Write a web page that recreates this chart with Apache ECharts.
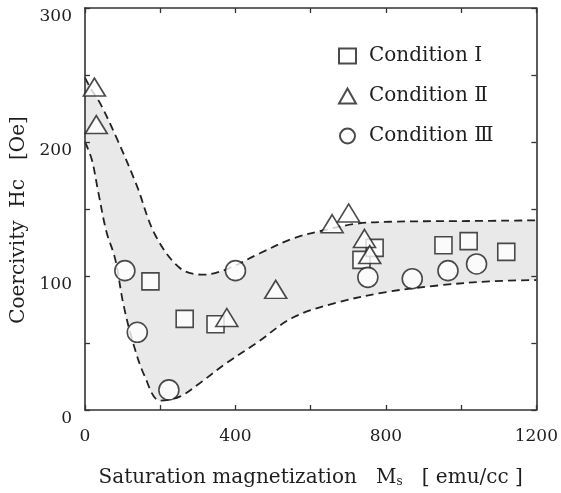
<!DOCTYPE html>
<html>
<head>
<meta charset="utf-8">
<script src="https://cdn.jsdelivr.net/npm/echarts@6/dist/echarts.min.js"></script>
<style>
  html, body { margin: 0; padding: 0; background: #fff; }
  #chart { width: 561px; height: 493px; }
</style>
</head>
<body>
<div id="chart"></div>
<script>
// Coercivity vs saturation magnetization for three sputtering conditions
const seriesNames = ['Condition Ⅰ', 'Condition Ⅱ', 'Condition Ⅲ'];

// [Ms (emu/cc), Hc (Oe)]
const conditionI = [[174, 96], [265, 68], [347, 64], [735, 112], [770, 121], [953, 123], [1020, 126], [1120, 118]];
const conditionII = [[25, 241], [30, 213], [377, 69], [507, 90], [657, 139], [701, 147], [743, 128], [757, 116]];
const conditionIII = [[106, 104], [139, 58], [223, 15], [400, 104], [752, 99], [870, 98], [965, 104], [1041, 109]];

// dashed envelope around the data
const bandUpper = [[0, 248], [15, 240], [40, 229], [84, 203], [137, 168], [186, 131], [252, 106], [314, 101],
  [376, 105], [465, 117], [553, 128], [633, 134], [721, 139], [810, 140.5], [1000, 141], [1200, 141.5]];
const bandLower = [[0, 200], [18, 187], [35, 163], [57, 133], [80, 113], [102, 79], [128, 50], [159, 25],
  [199, 7], [252, 10], [305, 20], [376, 35], [456, 50], [553, 69], [668, 80], [801, 88], [942, 93],
  [1075, 96], [1200, 97]];

const xLabelled = [0, 400, 800, 1200];
const yLabelled = [0, 100, 200, 300];

const FONT = 'DejaVu Serif';
const INK = '#1e1e1e';

const chart = echarts.init(document.getElementById('chart'), null, { renderer: 'canvas' });

const axisCommon = {
  axisLine: { show: true, onZero: false, lineStyle: { color: '#333', width: 1.6 } },
  axisTick: { show: true, inside: true, length: 5, lineStyle: { color: '#333', width: 1.3 } },
  splitLine: { show: false },
  z: 10
};

const markerStyle = { color: '#fff', borderColor: INK, borderWidth: 1.6 };
const dashStyle = { color: '#222', width: 1.8, type: [8, 5] };

chart.setOption({
  backgroundColor: '#fff',
  animation: false,
  grid: { left: 85, right: 24, top: 8, bottom: 79, containLabel: false },
  legend: {
    data: seriesNames,
    orient: 'vertical',
    left: 333,
    top: 41,
    itemGap: 20,
    itemWidth: 17,
    itemHeight: 15,
    textStyle: { fontFamily: FONT, fontSize: 20, color: INK, padding: [0, 0, 0, 8] }
  },
  xAxis: [
    Object.assign({}, axisCommon, {
      type: 'value', min: 0, max: 1200, interval: 200, position: 'bottom',
      axisLabel: {
        margin: 18, fontFamily: FONT, fontSize: 17, color: INK,
        formatter: v => (xLabelled.includes(v) ? String(v) : '')
      },
      name: 'Saturation magnetization   M{s|s}   [ emu/cc ]',
      nameLocation: 'middle',
      nameGap: 58,
      nameTextStyle: {
        fontFamily: FONT, fontSize: 20, color: INK,
        rich: { s: { fontFamily: FONT, fontSize: 12, color: INK, verticalAlign: 'bottom', padding: [8, 0, 0, 0] } }
      }
    }),
    Object.assign({}, axisCommon, {
      type: 'value', min: 0, max: 1200, interval: 200, position: 'top',
      axisLabel: { show: false }
    })
  ],
  yAxis: [
    Object.assign({}, axisCommon, {
      type: 'value', min: 0, max: 300, interval: 50, position: 'left',
      axisLabel: {
        margin: 13, fontFamily: FONT, fontSize: 17, color: INK, verticalAlign: 'top',
        formatter: v => (yLabelled.includes(v) ? String(v) : '')
      },
      name: 'Coercivity  Hc   [Oe]',
      nameLocation: 'middle',
      nameGap: 56,
      nameTextStyle: { fontFamily: FONT, fontSize: 20, color: INK, padding: [0, 22, 0, 0] }
    }),
    Object.assign({}, axisCommon, {
      type: 'value', min: 0, max: 300, interval: 50, position: 'right',
      axisLabel: { show: false }
    })
  ],
  series: [
    {
      name: 'upper envelope', type: 'line', data: bandUpper, smooth: 0.35,
      showSymbol: false, silent: true, z: 1,
      lineStyle: dashStyle,
      areaStyle: { color: '#e9e9e9', opacity: 1 }
    },
    {
      name: 'lower envelope', type: 'line', data: bandLower, smooth: 0.35,
      showSymbol: false, silent: true, z: 2,
      lineStyle: dashStyle,
      areaStyle: { color: '#fff', opacity: 1 }
    },
    {
      name: seriesNames[0], type: 'scatter', data: conditionI, symbol: 'rect', symbolSize: 17,
      itemStyle: markerStyle, z: 12
    },
    {
      name: seriesNames[1], type: 'scatter', data: conditionII, symbol: 'triangle', symbolSize: [22, 18],
      itemStyle: markerStyle, z: 12
    },
    {
      name: seriesNames[2], type: 'scatter', data: conditionIII, symbol: 'circle', symbolSize: 20,
      itemStyle: markerStyle, z: 12
    }
  ]
});
</script>
</body>
</html>
